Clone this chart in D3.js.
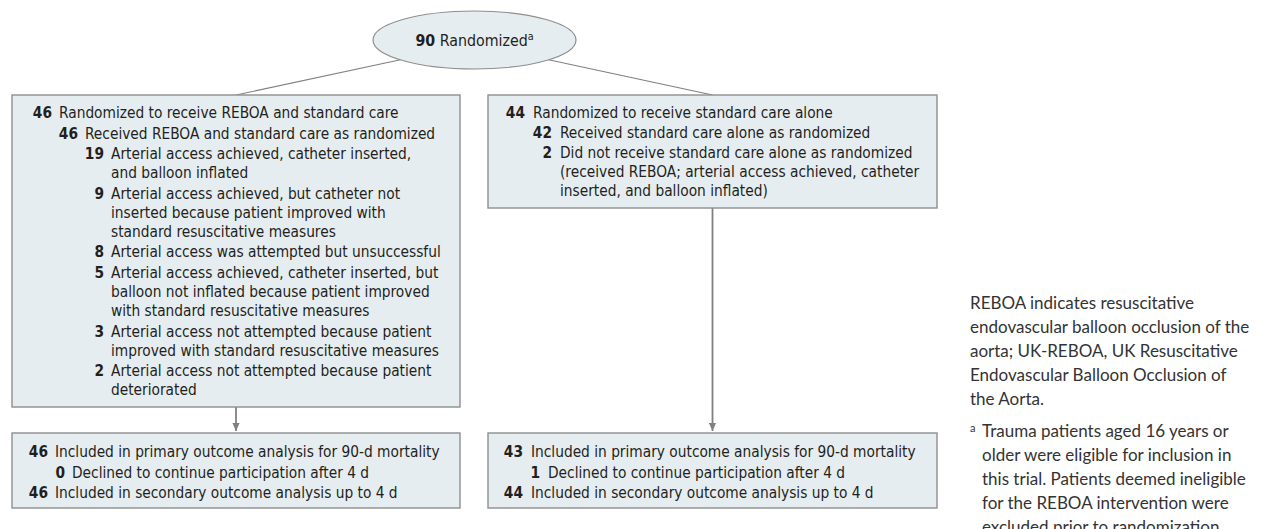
<!DOCTYPE html>
<html>
<head>
<meta charset="utf-8">
<script src="https://cdn.jsdelivr.net/npm/d3@7"></script>
<style>
  html, body { margin: 0; padding: 0; background: #ffffff; }
  svg { display: block; }
</style>
</head>
<body>
<svg id="chart" width="1265" height="529"></svg>
<script>
// ---------------- DATA ----------------
const randomizedCount = "90";
const randomizedLabel = "Randomized";
const randomizedNote = "a";

const rebodaArmCounts = ["46", "46", "19", "9", "8", "5", "3", "2"];
const rebodaArmLevels = [0, 1, 2, 2, 2, 2, 2, 2];
const rebodaArmLabels = [
  ["Randomized to receive REBOA and standard care"],
  ["Received REBOA and standard care as randomized"],
  ["Arterial access achieved, catheter inserted,", "and balloon inflated"],
  ["Arterial access achieved, but catheter not", "inserted because patient improved with", "standard resuscitative measures"],
  ["Arterial access was attempted but unsuccessful"],
  ["Arterial access achieved, catheter inserted, but", "balloon not inflated because patient improved", "with standard resuscitative measures"],
  ["Arterial access not attempted because patient", "improved with standard resuscitative measures"],
  ["Arterial access not attempted because patient", "deteriorated"]
];

const standardArmCounts = ["44", "42", "2"];
const standardArmLevels = [0, 1, 1];
const standardArmLabels = [
  ["Randomized to receive standard care alone"],
  ["Received standard care alone as randomized"],
  ["Did not receive standard care alone as randomized", "(received REBOA; arterial access achieved, catheter", "inserted, and balloon inflated)"]
];

const rebodaOutcomeCounts = ["46", "0", "46"];
const standardOutcomeCounts = ["43", "1", "44"];
const outcomeLevels = [0, 1, 0];
const outcomeLabels = [
  ["Included in primary outcome analysis for 90-d mortality"],
  ["Declined to continue participation after 4 d"],
  ["Included in secondary outcome analysis up to 4 d"]
];

const abbreviationNote = [
  "REBOA indicates resuscitative",
  "endovascular balloon occlusion of the",
  "aorta; UK-REBOA, UK Resuscitative",
  "Endovascular Balloon Occlusion of",
  "the Aorta."
];
const footnoteMark = "a";
const footnoteLines = [
  "Trauma patients aged 16 years or",
  "older were eligible for inclusion in",
  "this trial. Patients deemed ineligible",
  "for the REBOA intervention were",
  "excluded prior to randomization."
];

// ---------------- STYLE / LAYOUT ----------------
const FONT = "'DejaVu Sans Condensed', 'Liberation Sans Narrow', sans-serif";
const NOTE_FONT = "Lato, 'Open Sans', sans-serif";
const FS = 15.3;
const BOX_FILL = "#e6edf1";
const BOX_STROKE = "#8e8e8e";
const LINE_COL = "#808080";
const TEXT_COL = "#231f20";

const svg = d3.select("#chart");

svg.append("defs").append("marker")
  .attr("id", "arrow")
  .attr("viewBox", "0 0 10 10")
  .attr("refX", 10).attr("refY", 5)
  .attr("markerWidth", 9).attr("markerHeight", 8)
  .attr("markerUnits", "userSpaceOnUse")
  .attr("orient", "auto")
  .append("path").attr("d", "M0,0.5 L10,5 L0,9.5 Z").attr("fill", LINE_COL);

const boxes = {
  leftTop:  {x: 12,  y: 95,  w: 448, h: 312},
  rightTop: {x: 488, y: 95,  w: 449, h: 113},
  leftBot:  {x: 12,  y: 433, w: 448, h: 75},
  rightBot: {x: 488, y: 433, w: 449, h: 75}
};
const ell = {cx: 474.5, cy: 40, rx: 101.5, ry: 29};

function stepOffsets(levels, labels, wrapStep, itemStep) {
  const rows = [];
  let y = 0;
  labels.forEach((lines, i) => {
    if (i > 0) y += itemStep;
    lines.forEach((ln, j) => {
      if (j > 0) y += wrapStep;
      rows.push({item: i, line: j, text: ln, y: y, level: levels[i]});
    });
  });
  return rows;
}

function drawBox(b) {
  svg.append("rect")
    .attr("x", b.x).attr("y", b.y).attr("width", b.w).attr("height", b.h)
    .attr("fill", BOX_FILL).attr("stroke", BOX_STROKE).attr("stroke-width", 1.4);
}

function drawList(b, counts, levels, labels, opts) {
  const rows = stepOffsets(levels, labels, opts.wrap, opts.item);
  const y = d3.scaleLinear().domain([0, 1]).range([b.y + opts.top, b.y + opts.top + 1]);
  const numX = d3.scaleLinear().domain([0, 1]).range([b.x + opts.num0, b.x + opts.num0 + opts.indent]);
  const g = svg.append("g")
    .attr("font-family", FONT).attr("font-size", FS).attr("fill", TEXT_COL);
  rows.forEach(r => {
    if (r.line === 0) {
      g.append("text")
        .attr("x", numX(r.level)).attr("y", y(r.y))
        .attr("text-anchor", "end").attr("font-weight", "bold")
        .text(counts[r.item]);
    }
    g.append("text")
      .attr("x", numX(r.level) + opts.gap).attr("y", y(r.y))
      .text(r.text);
  });
}

// connectors from ellipse to arm boxes
const sx = 0.73;
const sy = Math.sqrt(1 - sx * sx);
const leftStart = [ell.cx - sx * ell.rx, ell.cy + ell.ry * sy];
const rightStart = [ell.cx + sx * ell.rx, ell.cy + ell.ry * sy];
const lineGen = d3.line();
svg.append("path")
  .attr("d", lineGen([leftStart, [boxes.leftTop.x + boxes.leftTop.w / 2, boxes.leftTop.y]]))
  .attr("stroke", LINE_COL).attr("stroke-width", 1.1).attr("fill", "none");
svg.append("path")
  .attr("d", lineGen([rightStart, [boxes.rightTop.x + boxes.rightTop.w / 2, boxes.rightTop.y]]))
  .attr("stroke", LINE_COL).attr("stroke-width", 1.1).attr("fill", "none");

// vertical arrows
[[boxes.leftTop, boxes.leftBot], [boxes.rightTop, boxes.rightBot]].forEach(([a, b]) => {
  const cx = a.x + a.w / 2;
  svg.append("path")
    .attr("d", lineGen([[cx, a.y + a.h], [cx, b.y - 2]]))
    .attr("stroke", LINE_COL).attr("stroke-width", 1.8).attr("fill", "none")
    .attr("marker-end", "url(#arrow)");
});

// ellipse
svg.append("ellipse")
  .attr("cx", ell.cx).attr("cy", ell.cy).attr("rx", ell.rx).attr("ry", ell.ry)
  .attr("fill", BOX_FILL).attr("stroke", BOX_STROKE).attr("stroke-width", 1.2);
const et = svg.append("text")
  .attr("x", ell.cx).attr("y", ell.cy + 5.5)
  .attr("text-anchor", "middle")
  .attr("font-family", FONT).attr("font-size", FS + 0.5).attr("fill", TEXT_COL);
et.append("tspan").attr("font-weight", "bold").text(randomizedCount);
et.append("tspan").text(" " + randomizedLabel);
et.append("tspan").attr("font-size", FS * 0.7).attr("dy", -5.5).text(randomizedNote);

Object.values(boxes).forEach(drawBox);

drawList(boxes.leftTop, rebodaArmCounts, rebodaArmLevels, rebodaArmLabels,
  {top: 23, wrap: 19, item: 20.6, num0: 40, indent: 26, gap: 7});
drawList(boxes.rightTop, standardArmCounts, standardArmLevels, standardArmLabels,
  {top: 23, wrap: 19, item: 20.2, num0: 37, indent: 27, gap: 8});
drawList(boxes.leftBot, rebodaOutcomeCounts, outcomeLevels, outcomeLabels,
  {top: 24, wrap: 20.5, item: 20.5, num0: 36, indent: 17, gap: 7});
drawList(boxes.rightBot, standardOutcomeCounts, outcomeLevels, outcomeLabels,
  {top: 24, wrap: 20.5, item: 20.5, num0: 35, indent: 17, gap: 8});

// notes on the right
const notes = svg.append("g")
  .attr("font-family", NOTE_FONT).attr("font-size", 17).attr("fill", "#333333");
const noteY = d3.scaleLinear().domain([0, 1]).range([309, 333]);
abbreviationNote.forEach((t, i) => {
  notes.append("text").attr("x", 970).attr("y", noteY(i)).text(t);
});
const fnY = d3.scaleLinear().domain([0, 1]).range([437, 461]);
notes.append("text").attr("x", 970).attr("y", fnY(0) - 5)
  .attr("font-size", 11).text(footnoteMark);
footnoteLines.forEach((t, i) => {
  notes.append("text").attr("x", 982).attr("y", fnY(i)).text(t);
});
</script>
</body>
</html>
